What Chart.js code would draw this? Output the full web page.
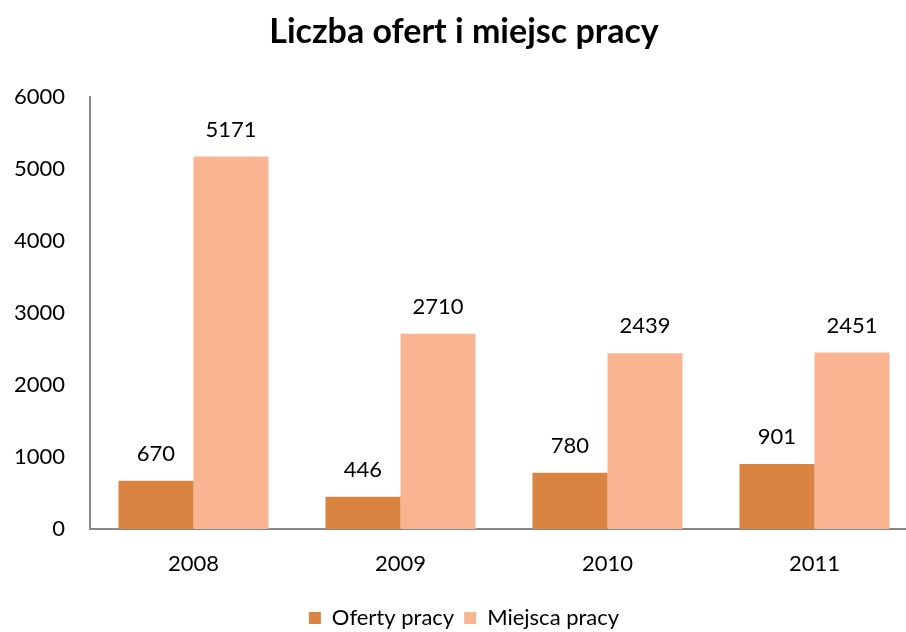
<!DOCTYPE html>
<html>
<head>
<meta charset="utf-8">
<script src="https://cdn.jsdelivr.net/npm/chart.js@4"></script>
<style>
  html, body { margin: 0; padding: 0; background: #fff; overflow: hidden; }
  #wrap { width: 906px; height: 632px; overflow: hidden; }
</style>
</head>
<body>
<div id="wrap"><canvas id="chart" width="918" height="632"></canvas></div>
<script>
const years = ["2008", "2009", "2010", "2011"];
const oferty = [670, 446, 780, 901];
const miejsca = [5171, 2710, 2439, 2451];
const yTicks = [0, 1000, 2000, 3000, 4000, 5000, 6000];

const FONT = "Lato, 'Open Sans', sans-serif";

// value labels above each bar
const barLabels = {
  id: "barLabels",
  afterDatasetsDraw(chart) {
    const ctx = chart.ctx;
    ctx.save();
    ctx.font = `22px ${FONT}`;
    ctx.fillStyle = "#000";
    ctx.textAlign = "center";
    ctx.textBaseline = "middle";
    chart.data.datasets.forEach((ds, i) => {
      chart.getDatasetMeta(i).data.forEach((bar, j) => {
        ctx.fillText(String(ds.data[j]), bar.x, bar.y - 27);
      });
    });
    ctx.restore();
  },
};

new Chart(document.getElementById("chart"), {
  type: "bar",
  data: {
    labels: years,
    datasets: [
      { label: "Oferty pracy", data: oferty, backgroundColor: "#DA8441" },
      { label: "Miejsca pracy", data: miejsca, backgroundColor: "#F9B592" },
    ],
  },
  options: {
    responsive: false,
    animation: false,
    layout: { padding: { left: 10, right: 0, top: 0, bottom: -7 } },
    datasets: { bar: { categoryPercentage: 0.725, barPercentage: 1 } },
    plugins: {
      title: {
        display: true,
        text: "Liczba ofert i miejsc pracy",
        color: "#000",
        font: { family: FONT, size: 34, weight: "bold" },
        padding: { top: 12, bottom: 44 },
      },
      legend: {
        position: "bottom",
        labels: {
          color: "#000",
          font: { family: FONT, size: 22 },
          boxWidth: 12,
          boxHeight: 12,
          padding: 10,
        },
      },
      tooltip: { enabled: false },
    },
    scales: {
      x: {
        afterFit(scale) { scale.height = 68; },
        grid: { display: false, drawTicks: false },
        border: { display: true, color: "#888", width: 2 },
        ticks: { color: "#000", font: { family: FONT, size: 22 }, padding: 22 },
      },
      y: {
        min: 0,
        max: 6000,
        afterBuildTicks(axis) {
          axis.ticks = yTicks.map((v) => ({ value: v }));
        },
        afterFit(scale) { scale.width = 80; },
        grid: { display: false, drawTicks: false },
        border: { display: true, color: "#888", width: 2 },
        ticks: {
          color: "#000",
          font: { family: FONT, size: 22 },
          padding: 25,
          callback: (v) => String(v),
        },
      },
    },
  },
  plugins: [barLabels],
});
</script>
</body>
</html>
